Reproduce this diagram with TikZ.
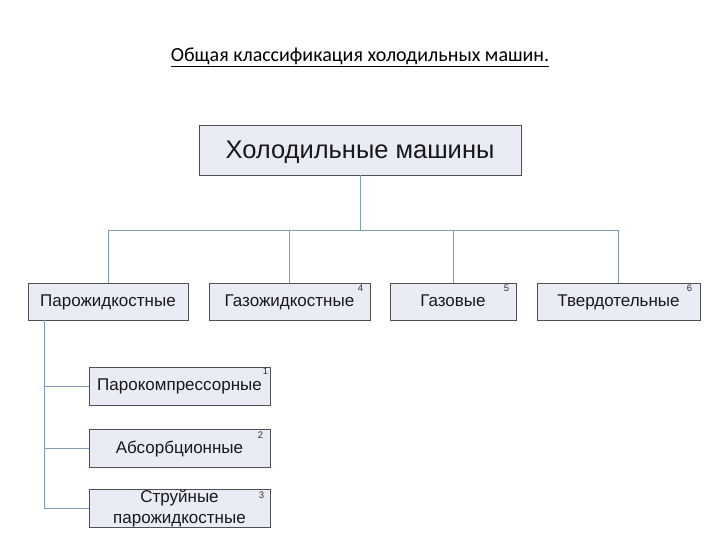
\documentclass[tikz,border=0pt]{standalone}
\usepackage{fontspec}
\setmainfont{Liberation Sans}
\newfontfamily\titlefont{Carlito}
\usetikzlibrary{positioning,shadows}
\definecolor{boxfill}{HTML}{E9ECF5}
\definecolor{boxline}{HTML}{505050}
\definecolor{linkline}{HTML}{7F9DB9}
\tikzstyle{block} = [rectangle, draw=boxline, fill=boxfill, line width=0.9pt, inner sep=0pt, text=black!90, text height=12.5pt, text depth=2.5pt, drop shadow={shadow xshift=0.6pt, shadow yshift=-1.4pt, fill=black!65, opacity=1}]
\tikzstyle{num} = [font=\fontsize{9.5}{9.5}\selectfont, inner sep=0pt, text=black!80]
\tikzstyle{link} = [draw=linkline, line width=0.9pt]

\begin{document}
\begin{tikzpicture}[x=1pt, y=-1pt]
        \useasboundingbox (0,0) rectangle (720,540);
        \node[font=\titlefont\fontsize{20}{20}\selectfont] (title) at (360,57) {\underline{Общая классификация холодильных машин.}};

        \node[block, minimum width=322pt, minimum height=50pt, text height=20pt, text depth=2pt, font=\fontsize{25.5}{25.5}\selectfont] (root) at (360,150) {Холодильные машины};

        \node[block, minimum width=160pt, minimum height=37pt, font=\fontsize{17}{17}\selectfont] (pzh) at (108,301.5) {Парожидкостные};
        \node[block, minimum width=161pt, minimum height=37pt, font=\fontsize{17}{17}\selectfont] (gzh) at (289.5,301.5) {Газожидкостные};
        \node[block, minimum width=126pt, minimum height=37pt, font=\fontsize{17}{17}\selectfont] (gaz) at (453,301.5) {Газовые};
        \node[block, minimum width=163pt, minimum height=37pt, font=\fontsize{17}{17}\selectfont] (tv) at (618.5,301.5) {Твердотельные};

        \node[block, minimum width=181pt, minimum height=38pt, text height=11pt, text depth=3pt, font=\fontsize{17}{17}\selectfont] (pk) at (179.5,386) {Парокомпрессорные};
        \node[block, minimum width=181pt, minimum height=38pt, font=\fontsize{17}{17}\selectfont] (abs) at (179.5,448) {Абсорбционные};
        \node[block, minimum width=181pt, minimum height=38pt, align=center, text height=, text depth=, font=\fontsize{17}{21}\selectfont] (str) at (179.5,508) {Струйные\\парожидкостные};

        % номера
        \node[num] (n1) at ([xshift=-5pt, yshift=-5pt]pk.north east) {1};
        \node[num] (n2) at ([xshift=-10pt, yshift=-7pt]abs.north east) {2};
        \node[num] (n3) at ([xshift=-9pt, yshift=-7pt]str.north east) {3};
        \node[num] (n4) at ([xshift=-10pt, yshift=-6pt]gzh.north east) {4};
        \node[num] (n5) at ([xshift=-10pt, yshift=-6pt]gaz.north east) {5};
        \node[num] (n6) at ([xshift=-11pt, yshift=-6pt]tv.north east) {6};

        \coordinate (bus) at (360,230);
        \coordinate (trunk) at ([xshift=17pt]pzh.south west);

        \draw[link] (root) -- (bus);
        \draw[link] (pzh.north) -- (pzh.north |- bus) -- (tv.north |- bus) -- (tv.north);
        \draw[link] (gzh.north) -- (gzh.north |- bus);
        \draw[link] (gaz.north) -- (gaz.north |- bus);

        \draw[link] (trunk) |- (str.west);
        \draw[link] (trunk) |- (pk.west);
        \draw[link] (trunk) |- (abs.west);

    \end{tikzpicture}
\end{document}
